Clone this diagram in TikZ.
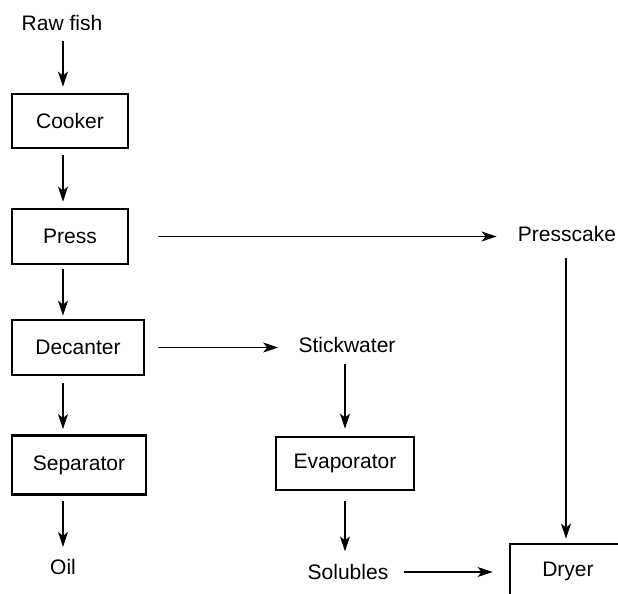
\documentclass[tikz,border=0pt]{standalone}
\usepackage{fontspec}
\setmainfont{Liberation Sans}
\usepackage{tikz}
\usetikzlibrary{arrows.meta,positioning,calc}
\tikzset{
  stage/.style={rectangle, draw=black, line width=1.45pt, minimum height=27pt, align=center, font=\fontsize{10.5}{12}\selectfont},
  stream/.style={inner sep=0pt, align=center, font=\fontsize{10.5}{12}\selectfont},
  flow/.style={-{Stealth[length=7.5pt, width=5pt, inset=2pt]}, line width=0.55pt, shorten <=3pt, shorten >=3pt},
}
\begin{document}
\begin{tikzpicture}[x=0.5pt, y=-0.5pt]
  \clip (0,0) rectangle (618,594);
  \node[stream] (rawfish) at (62,23) {Raw fish};
  \node[stage, minimum width=58pt] (cooker) at (70,121) {Cooker};
  \node[stage, minimum width=58pt, minimum height=27.5pt] (press) at (70,236.5) {Press};
  \node[stage, minimum width=66pt, minimum height=27.5pt] (decanter) at (78,347.5) {Decanter};
  \node[stage, minimum width=67pt, minimum height=29.5pt] (separator) at (79,465) {Separator};
  \node[stream] (oil) at (63,567) {Oil};
  \node[stream] (presscake) at (567,234) {Presscake};
  \node[stream] (stickwater) at (347,345) {Stickwater};
  \node[stage, minimum width=69pt, minimum height=26.5pt] (evaporator) at (345,463.5) {Evaporator};
  \node[stream] (solubles) at (348,572) {Solubles};
  \node[stage, minimum width=58pt] (dryer) at (568,571) {Dryer};
  % main column
  \draw[flow, shorten <=4.75pt] (rawfish.south -| oil) -- (cooker.north -| oil);
  \draw[flow] (cooker.south -| oil) -- (press.north -| oil);
  \draw[flow, shorten <=2pt, shorten >=1.5pt] (press.south -| oil) -- (decanter.north -| oil);
  \draw[flow, shorten <=3.5pt, shorten >=2.5pt] (decanter.south -| oil) -- (separator.north -| oil);
  \draw[flow, shorten <=2.5pt, shorten >=6pt] (separator.south -| oil) -- (oil.north);
  % side streams
  \draw[flow, shorten <=6.5pt, shorten >=10.5pt] (press.east -| decanter.east) -- (presscake.west |- press.east);
  \draw[flow, shorten <=6.5pt, shorten >=10pt] (decanter.east) -- (stickwater.west |- decanter.east);
  \draw[flow, shorten <=5.25pt, shorten >=3.5pt] (stickwater.south -| evaporator) -- (evaporator.north);
  \draw[flow, shorten <=5pt, shorten >=6.25pt] (evaporator.south) -- (evaporator.south |- solubles.north);
  \draw[flow, shorten <=8pt, shorten >=2pt] ($(presscake.south)+(-1,0)$) -- ($(presscake.south |- dryer.north)+(-1,0)$);
  \draw[flow, shorten <=7.5pt, shorten >=8pt] (solubles.east) -- (dryer.west |- solubles.east);
\end{tikzpicture}
\end{document}
